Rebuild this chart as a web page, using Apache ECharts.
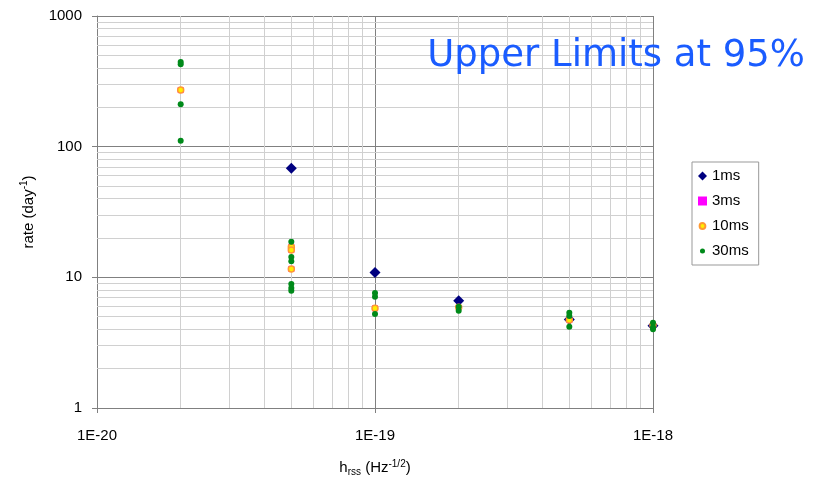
<!DOCTYPE html>
<html>
<head>
<meta charset="utf-8">
<script src="https://cdn.jsdelivr.net/npm/echarts@6/dist/echarts.min.js"></script>
<style>html,body{margin:0;padding:0;background:#fff;}#c{width:822px;height:477px;}</style>
</head>
<body>
<div id="c"></div>
<script>
// hrss values (Hz^-1/2) and rates (day^-1)
const x1ms = [5e-20, 1e-19, 2e-19, 5e-19, 1e-18];
const y1ms = [68.3, 10.9, 6.63, 4.75, 4.26];
const x3ms = [2e-20, 5e-20, 5e-20, 5e-20, 1e-19, 5e-19, 1e-18];
const y3ms = [271, 17.1, 16.2, 11.6, 5.8, 4.72, 4.3];
const x10ms = [2e-20, 5e-20, 5e-20, 5e-20, 1e-19, 2e-19, 5e-19, 1e-18];
const y10ms = [271, 17.1, 16.2, 11.6, 5.8, 5.9, 4.72, 4.3];
const x30ms = [2e-20, 2e-20, 2e-20, 2e-20, 5e-20, 5e-20, 5e-20, 5e-20, 5e-20, 5e-20, 1e-19, 1e-19, 1e-19, 2e-19, 2e-19, 5e-19, 5e-19, 5e-19, 1e-18, 1e-18, 1e-18];
const y30ms = [445, 428, 211, 111, 18.7, 14.3, 13.3, 8.9, 8.3, 7.9, 7.6, 7.1, 5.24, 5.96, 5.55, 5.36, 5.06, 4.19, 4.5, 4.15, 4.0];
const seriesNames = ['1ms', '3ms', '10ms', '30ms'];
const xTicks = [1e-20, 1e-19, 1e-18];
const yTicks = [1, 10, 100, 1000];
const xMinor = [2, 3, 4, 5, 6, 7, 8, 9, 20, 30, 40, 50, 60, 70, 80, 90];
const yMinor = [2, 3, 4, 5, 6, 7, 8, 9, 20, 30, 40, 50, 60, 70, 80, 90, 200, 300, 400, 500, 600, 700, 800, 900];

const UNIT = 1e-20; // x plotted in units of 1e-20 to keep log scale precise
const pairs = (xs, ys) => xs.map((x, i) => [x / UNIT, ys[i]]);
const font = 'Arial, "Liberation Sans", sans-serif';
// small circle icons padded inside a 10x10 box
const smallCircle = r => 'path://M0,0L0,0M10,10L10,10M5,' + (5 - r) + 'A' + r + ',' + r + ',0,1,1,5,' + (5 + r) + 'A' + r + ',' + r + ',0,1,1,5,' + (5 - r) + 'Z';

const chart = echarts.init(document.getElementById('c'));
chart.setOption({
  animation: false,
  backgroundColor: '#ffffff',
  title: {
    text: 'Upper Limits at 95%',
    right: 12, top: 33,
    textStyle: { fontFamily: '"DejaVu Sans", Verdana, sans-serif', fontSize: 37, fontWeight: 'normal', color: '#1a5cff' }
  },
  legend: {
    orient: 'vertical',
    left: 692, top: 162,
    data: [
      { name: '1ms', icon: 'diamond' },
      { name: '3ms', icon: 'rect' },
      { name: '10ms', icon: smallCircle(3.2) },
      { name: '30ms', icon: smallCircle(2.8) }
    ],
    itemWidth: 9, itemHeight: 9, itemGap: 9,
    padding: [6, 10, 6, 5],
    borderColor: '#999', borderWidth: 1,
    backgroundColor: '#fff',
    textStyle: { fontFamily: font, fontSize: 15, color: '#000', lineHeight: 16 }
  },
  grid: { left: 97, right: 169, top: 16, bottom: 69, outerBoundsMode: 'none' },
  xAxis: {
    type: 'log', logBase: 10,
    min: xTicks[0] / UNIT, max: xTicks[xTicks.length - 1] / UNIT,
    name: 'h{sub|rss} (Hz{sup|-1/2})',
    nameLocation: 'middle', nameGap: 51,
    nameTextStyle: {
      fontFamily: font, fontSize: 15, color: '#000', lineHeight: 18,
      rich: {
        sub: { fontFamily: font, fontSize: 10, verticalAlign: 'bottom', lineHeight: 13, padding: [7, 0, 0, 0] },
        sup: { fontFamily: font, fontSize: 10, verticalAlign: 'top', lineHeight: 13, padding: [0, 0, 7, 0] }
      }
    },
    axisLine: { show: true, lineStyle: { color: '#808080', width: 1 } },
    axisTick: { show: true, length: 5, lineStyle: { color: '#808080' } },
    axisLabel: {
      margin: 20, fontFamily: font, fontSize: 15, color: '#000',
      formatter: v => '1E' + (Math.round(Math.log10(v)) + Math.round(Math.log10(UNIT)))
    },
    splitLine: { show: true, lineStyle: { color: '#808080', width: 1 } }
  },
  yAxis: {
    type: 'log', logBase: 10,
    min: yTicks[0], max: yTicks[yTicks.length - 1],
    name: 'rate (day{sup|-1})',
    nameLocation: 'middle', nameRotate: 90, nameGap: 51,
    nameTextStyle: {
      fontFamily: font, fontSize: 15, color: '#000', lineHeight: 18,
      rich: { sup: { fontFamily: font, fontSize: 10, verticalAlign: 'top', lineHeight: 13, padding: [0, 0, 7, 0] } }
    },
    axisLine: { show: true, lineStyle: { color: '#808080', width: 1 } },
    axisTick: { show: true, length: 5, lineStyle: { color: '#808080' } },
    axisLabel: { margin: 15, fontFamily: font, fontSize: 15, color: '#000',
      formatter: v => String(Math.round(v)) },
    splitLine: { show: true, lineStyle: { color: '#808080', width: 1 } }
  },
  series: [
    {
      name: 'minorgrid', type: 'scatter', data: [], z: 1, silent: true,
      markLine: {
        silent: true, symbol: 'none', animation: false,
        label: { show: false },
        lineStyle: { color: '#d0d0d0', width: 1, type: 'solid' },
        data: xMinor.map(v => ({ xAxis: v })).concat(yMinor.map(v => ({ yAxis: v })))
      }
    },
    {
      name: seriesNames[0], type: 'scatter', z: 5, symbol: 'diamond', symbolSize: 11,
      itemStyle: { color: '#000080', opacity: 1 },
      data: pairs(x1ms, y1ms)
    },
    {
      name: seriesNames[1], type: 'scatter', z: 5, symbol: 'rect', symbolSize: 6,
      itemStyle: { color: '#ff00ff', opacity: 1 },
      data: pairs(x3ms, y3ms)
    },
    {
      name: seriesNames[2], type: 'scatter', z: 5, symbol: 'circle', symbolSize: 6,
      itemStyle: { color: '#ffee00', borderColor: '#ff9933', borderWidth: 1.5, opacity: 1 },
      data: pairs(x10ms, y10ms)
    },
    {
      name: seriesNames[3], type: 'scatter', z: 5, symbol: 'circle', symbolSize: 6,
      itemStyle: { color: '#008a1a', opacity: 1 },
      data: pairs(x30ms, y30ms)
    }
  ]
});
</script>
</body>
</html>
